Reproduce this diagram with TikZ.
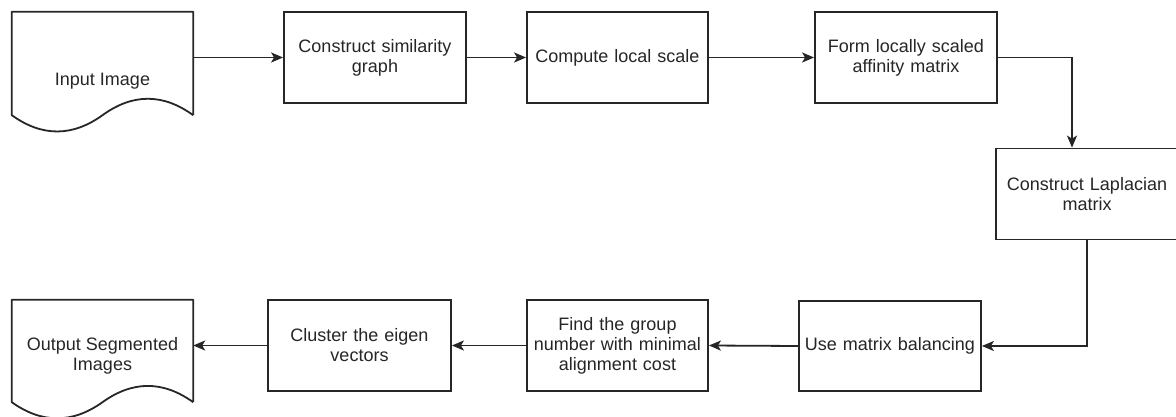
\documentclass[tikz,border=0pt]{standalone}
\usepackage{fontspec}
\setmainfont{Liberation Sans}
\usetikzlibrary{arrows.meta,calc}
\begin{document}
\begin{tikzpicture}[x=1pt,y=-1pt,
  every node/.style={font=\fontsize{18}{20}\selectfont, inner sep=0pt, text=black!85},
  procbox/.style={draw=black!85, line width=1.8pt, fill=white, align=center,
    minimum width=182pt, minimum height=91pt, text width=172pt},
  docarea/.style={minimum width=181pt, align=center},
  conn/.style={draw=black!85, line width=1.8pt, -{Stealth[length=12pt,width=10pt,inset=3pt]}},
  docline/.style={draw=black!85, line width=1.8pt, line join=round}
]
\useasboundingbox (0,0) rectangle (1176,417);

% document shapes (text areas)
\node[docarea, minimum height=103pt] (in) at (102.5,63.5) {};
\node (intext) at (102.5,81) {Input Image};
\node[docarea, minimum height=102pt] (out) at (102.5,351) {};
\node[align=center] (outtext) at (102.5,356) {Output Segmented\\Images};

\draw[docline] (in.south east) -- (in.north east) -- (in.north west) -- (in.south west)
  .. controls +(30.2,21.7) and +(-30.2,21.7) .. (in.south)
  .. controls +(30.2,-21.9) and +(-30.2,-21.9) .. (in.south east);
\draw[docline] (out.south east) -- (out.north east) -- (out.north west) -- (out.south west)
  .. controls +(30.2,21.5) and +(-30.2,21.5) .. (out.south)
  .. controls +(30.2,-21.7) and +(-30.2,-21.7) .. (out.south east);

% process boxes
\node[procbox] (b1) at (375,57.5) {Construct similarity\\graph};
\node[procbox, minimum width=181pt] (b2) at (617.5,57.5) {Compute local scale};
\node[procbox, minimum height=91pt] (b3) at (906,57.5) {Form locally scaled\\affinity matrix};
\node[procbox, minimum height=91pt] (b4) at (1087,194) {Construct Laplacian\\matrix};
\node[procbox, minimum height=90pt] (b5) at (890,346) {Use matrix balancing};
\node[procbox, minimum width=181pt] (b6) at (617.5,345.5) {Find the group\\number with minimal\\alignment cost};
\node[procbox, minimum width=183pt] (b7) at (359.5,345.5) {Cluster the eigen\\vectors};

% connectors
\draw[conn] (in.east |- b1.west) -- (b1.west);
\draw[conn] (b1.east) -- (b2.west);
\draw[conn] (b2.east) -- (b3.west);
\draw[conn] (b3.east) -| ([xshift=-15pt]b4.north);
\draw[conn] (b4.south) |- (b5.east);
\draw[conn] (b5.west) -- (b6.east);
\draw[conn] (b6.west) -- (b7.east);
\draw[conn] (b7.west) -- (out.east |- b7.west);
\end{tikzpicture}
\end{document}
